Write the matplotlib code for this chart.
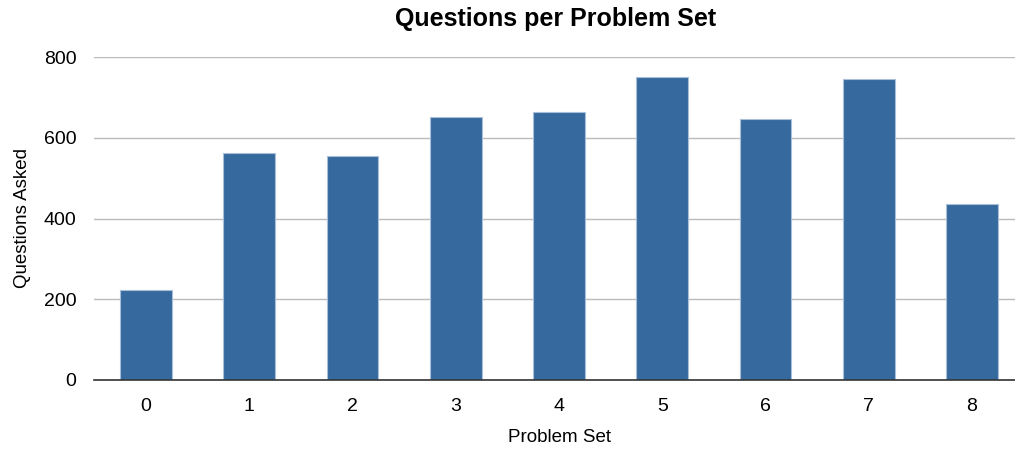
import matplotlib
matplotlib.use("Agg")
import matplotlib.pyplot as plt
import numpy as np

problem_sets = ["0", "1", "2", "3", "4", "5", "6", "7", "8"]
questions = [223, 561, 555, 651, 665, 750, 646, 745, 437]
y_ticks = [0, 200, 400, 600, 800]

plt.rcParams['font.family'] = ['Liberation Sans', 'DejaVu Sans']

fig = plt.figure(figsize=(10.15, 4.5), dpi=100)
ax = fig.add_axes([94.4 / 1015, 70 / 450, 929.2 / 1015, 323 / 450])

x = np.arange(len(problem_sets))
ax.bar(x, questions, 0.5, color="#366a9f", edgecolor="#a9bfd9", linewidth=0.8, zorder=3)

ax.set_xlim(-0.5, 8.5)
ax.set_ylim(0, 800)
ax.set_xticks(x)
ax.set_xticklabels(problem_sets)
ax.set_yticks(y_ticks)
ax.tick_params(axis="x", length=0, pad=13, labelsize=14)
ax.tick_params(axis="y", length=0, pad=13, labelsize=14)

ax.grid(axis="y", color="#bbbbbb", linewidth=1, zorder=0)
for s in ["top", "right", "left"]:
    ax.spines[s].set_visible(False)
ax.spines["bottom"].set_color("#333333")
ax.spines["bottom"].set_linewidth(1.2)
ax.spines["bottom"].set_zorder(4)

ax.set_xlabel("Problem Set", fontsize=13.5, labelpad=10)
ax.set_ylabel("Questions Asked", fontsize=13.5, labelpad=9)
fig.text(556 / 1015, 1 - 19 / 450, "Questions per Problem Set", fontsize=18,
         fontweight="bold", ha="center", va="center")

fig.savefig("out.png", dpi=100)
